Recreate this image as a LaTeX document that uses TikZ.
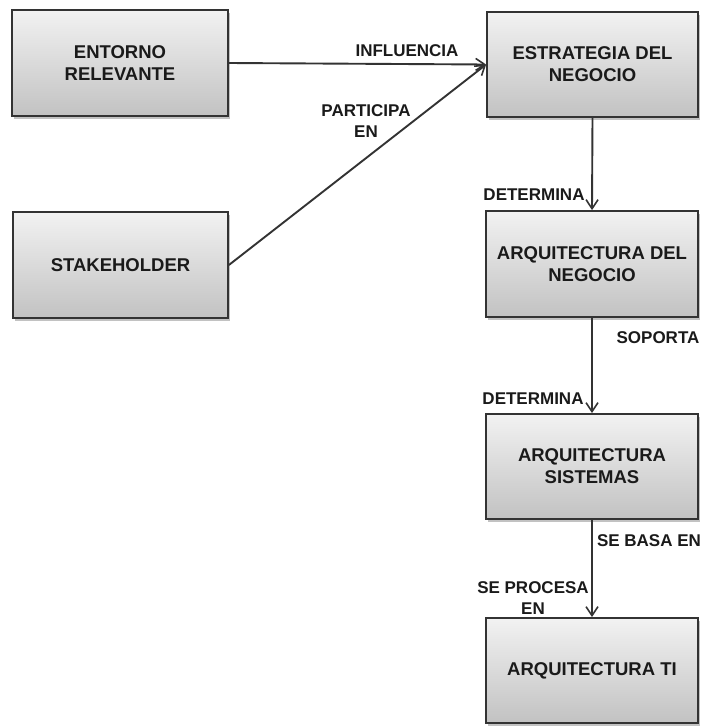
\documentclass[tikz,border=0pt]{standalone}
\usepackage{fontspec}
\setmainfont{Liberation Sans}
\usetikzlibrary{arrows.meta,shadows}
\definecolor{boxline}{HTML}{333333}
\definecolor{boxtop}{HTML}{F2F2F2}
\definecolor{boxbot}{HTML}{C2C2C2}
\definecolor{txt}{HTML}{1A1A1A}
\begin{document}
\begin{tikzpicture}[x=1pt,y=-1pt,
  boxnode/.style={draw=boxline,line width=1.8pt,top color=boxtop,bottom color=boxbot,
    minimum width=212pt,minimum height=105pt,inner sep=0pt,align=center,
    text=txt,font=\fontsize{18.5}{22}\selectfont\bfseries,
    drop shadow={shadow xshift=2pt,shadow yshift=-2.5pt,opacity=0.4,fill=black!60}},
  lbl/.style={text=txt,font=\fontsize{17}{21}\selectfont\bfseries,align=center,inner sep=0pt},
  arr/.style={draw=boxline,line width=1.9pt,-{Straight Barb[length=9pt,width=12pt,line width=1.6pt]}}]
\useasboundingbox (0,0) rectangle (702,726);
\node[boxnode,minimum width=216pt,minimum height=106pt] (entorno) at (120,63) {ENTORNO\\RELEVANTE};
\node[boxnode,minimum width=215pt,minimum height=106pt] (stake) at (120.5,265) {STAKEHOLDER};
\node[boxnode,minimum width=211pt] (estrategia) at (592.5,64.5) {ESTRATEGIA DEL\\NEGOCIO};
\node[boxnode,minimum height=106pt] (arqneg) at (592,264) {ARQUITECTURA DEL\\NEGOCIO};
\node[boxnode] (arqsis) at (592,466.5) {ARQUITECTURA\\SISTEMAS};
\node[boxnode] (arqti) at (592,670.5) {ARQUITECTURA TI};
\draw[arr] (entorno.east) -- (estrategia.west);
\draw[arr] (stake.east) -- (estrategia.west);
\draw[arr] (estrategia.south) -- (arqneg.north);
\draw[arr] (arqneg.south) -- (arqsis.north);
\draw[arr] (arqsis.south) -- (arqti.north);
\node[lbl] (linfl) at (407,51) {INFLUENCIA};
\node[lbl] (lpart) at (366,121) {PARTICIPA\\EN};
\node[lbl] (ldet1) at (534,195) {DETERMINA};
\node[lbl] (lsop) at (658,337.5) {SOPORTA};
\node[lbl] (ldet2) at (533,399) {DETERMINA};
\node[lbl] (lbasa) at (649,541) {SE BASA EN};
\node[lbl] (lproc) at (533,598.5) {SE PROCESA\\EN};
\end{tikzpicture}
\end{document}
